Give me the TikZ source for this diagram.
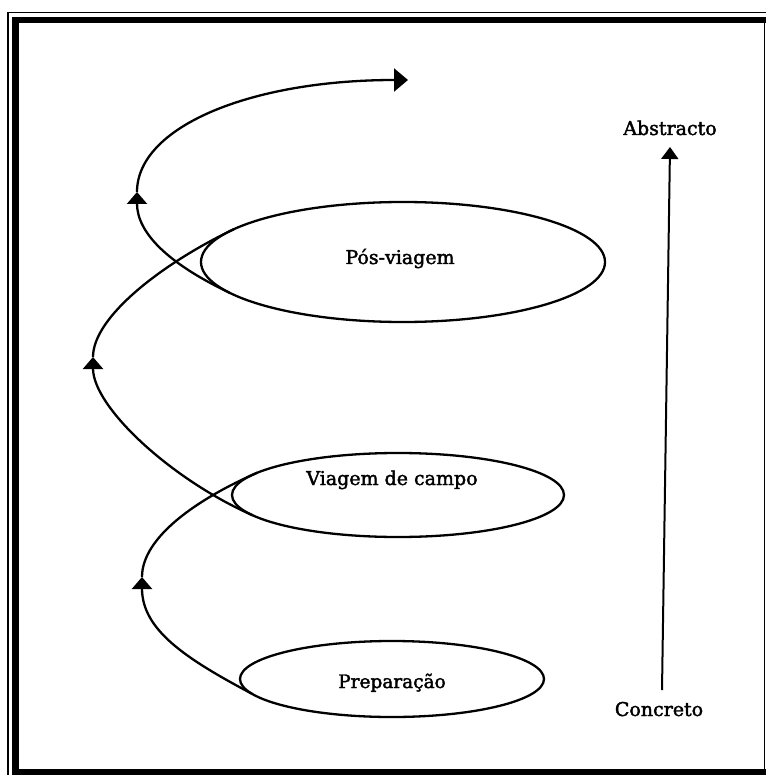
\documentclass[tikz,border=0pt]{standalone}
\usepackage{fontspec}
\setmainfont{DejaVu Serif}
\newfontfamily\lblfont[FakeBold=2]{DejaVu Serif}
\usetikzlibrary{arrows.meta,shapes.geometric}
\begin{document}
\begin{tikzpicture}[x=1pt,y=-1pt,
  oval/.style={ellipse,draw,line width=2.3pt,inner sep=0pt,outer sep=0pt},
  spiral/.style={line width=2.3pt},
  head/.style={-{Triangle[width=20pt,length=12pt]}},
  endhead/.style={-{Triangle[width=23pt,length=14pt]}},
  vhead/.style={-{Triangle[width=17pt,length=12pt]}},
  lbl/.style={font=\lblfont\fontsize{19}{21}\selectfont,anchor=base,inner sep=0pt},
  thinframe/.style={line width=1.7pt},
  thickframe/.style={line width=6.5pt}]
\useasboundingbox (0,0) rectangle (766,775);
% frame
\draw[thinframe] (766,12.5) -- (8,12.5) -- (8,775);
\draw[thickframe] (766,20) -- (15.5,20) -- (15.5,772) -- (766,772);
\draw[line width=1pt] (764.5,20) -- (764.5,772);
% ellipses
\node[oval,minimum width=404pt,minimum height=120pt] (e3) at (403,262) {};
\node[oval,minimum width=332pt,minimum height=84pt] (e2) at (398,495) {};
\node[oval,minimum width=304pt,minimum height=76pt] (e1) at (392,679) {};
% labels
\node[lbl] (t3) at (400,264) {Pós-viagem};
\node[lbl] (t2) at (392,485) {Viagem de campo};
\node[lbl,font=\lblfont\fontsize{18.5}{21}\selectfont] (t1) at (392,688) {Preparação};
\node[lbl] (abs) at (670,135) {Abstracto};
\node[lbl] (con) at (659,716) {Concreto};
% arrow points
\coordinate (a1) at (142,577);
\coordinate (a2) at (93,357);
\coordinate (a3) at (137,192);
\coordinate (a4) at (408,80);
% spiral
\draw[spiral,head] (e1.186.8) .. controls +(-66,-35) and +(0,53) .. (a1);
\draw[spiral] (a1) .. controls +(0,-40) and +(-59.5,26) .. (e2.171.7);
\draw[spiral,head] (e2.188.3) .. controls +(-82,-36) and +(0,50) .. (a2);
\draw[spiral] (a2) .. controls +(0,-40) and +(-72,34.4) .. (e3.169.5);
\draw[spiral,head] (e3.190.5) .. controls +(-63,-30) and +(0,40) .. (a3);
\draw[spiral,endhead] (a3) .. controls +(0,-65) and +(-158,0) .. (a4);
% vertical arrow
\coordinate (vbot) at (662,690);
\coordinate (vtop) at (670,147);
\draw[line width=2pt,vhead] (vbot) -- (vtop);
\end{tikzpicture}
\end{document}
